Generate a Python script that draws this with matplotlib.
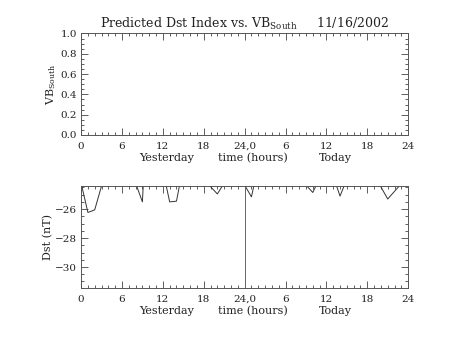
import numpy as np
import matplotlib
matplotlib.use('Agg')
import matplotlib.pyplot as plt
from matplotlib.ticker import MultipleLocator, FixedLocator

# hourly predicted Dst (nT), hours 0..47 (yesterday + today)
hours = np.arange(48)
dst = [-24.2, -26.23, -26.05, -24.4, -23.0, -23.0, -23.0, -23.0,
       -24.2, -25.5, -16.0, -23.0, -23.3, -25.5, -25.45, -23.0,
       -23.0, -23.0, -24.0, -24.45, -24.95, -24.2, -23.0, -23.0,
       -24.34, -25.15, -23.0, -23.0, -23.0, -23.0, -23.0, -23.0,
       -23.0, -24.33, -24.85, -23.87, -23.0, -23.7, -25.1, -23.93,
       -23.0, -23.0, -23.0, -24.0, -24.46, -25.3, -24.77, -24.24]
xticks = [0, 6, 12, 18, 24, 30, 36, 42, 48]
xticklabels = ['0', '6', '12', '18', '24,0', '6', '12', '18', '24']
vb_ticks = [0.0, 0.2, 0.4, 0.6, 0.8, 1.0]
day_labels = ['Yesterday', 'time (hours)', 'Today']

plt.rcParams['font.family'] = ['DejaVu Serif']
plt.rcParams['font.size'] = 7.5
plt.rcParams['text.color'] = '#222222'
plt.rcParams['axes.labelcolor'] = '#222222'

fig = plt.figure(figsize=(4.53, 3.4), dpi=100)
ax1 = fig.add_axes([0.179, 0.603, 0.722, 0.2985])
ax2 = fig.add_axes([0.179, 0.153, 0.722, 0.300])

for ax in (ax1, ax2):
    ax.set_xlim(0, 48)
    ax.xaxis.set_major_locator(FixedLocator(xticks))
    ax.set_xticklabels(xticklabels)
    ax.xaxis.set_minor_locator(MultipleLocator(1))
    ax.tick_params(which='both', direction='in', top=True, right=True,
                   color='#444444', width=0.6, labelsize=7.5,
                   labelcolor='#222222')
    ax.tick_params(axis='x', pad=5)
    ax.tick_params(axis='y', pad=3)
    ax.tick_params(which='major', length=5)
    ax.tick_params(which='minor', length=2.5)
    for s in ax.spines.values():
        s.set_color('#555555')
        s.set_linewidth(0.7)
    for txt, fx in zip(day_labels, [0.26, 0.526, 0.777]):
        ax.text(fx, -0.225, txt, transform=ax.transAxes, ha='center',
                va='center', fontsize=8)

# top panel: VB south (no data)
ax1.set_ylim(0, 1.0)
ax1.yaxis.set_major_locator(FixedLocator(vb_ticks))
ax1.set_yticklabels(['%.1f' % v for v in vb_ticks])
ax1.yaxis.set_minor_locator(MultipleLocator(0.05))
ax1.set_ylabel('VB$_{\\mathregular{South}}$', fontsize=8, labelpad=2)
ax1.set_title('Predicted Dst Index vs. VB$_{\\mathregular{South}}$     11/16/2002',
              fontsize=9, pad=4)

# bottom panel: Dst
ax2.plot(hours, dst, color='#333333', lw=0.7)
ax2.axvline(24, color='#666666', lw=0.7)
ax2.set_ylim(-31.45, -24.4)
ax2.yaxis.set_major_locator(MultipleLocator(2))
ax2.yaxis.set_minor_locator(MultipleLocator(0.5))
ax2.set_ylabel('Dst (nT)', fontsize=8, labelpad=1)

fig.savefig('out.png', dpi=100)
